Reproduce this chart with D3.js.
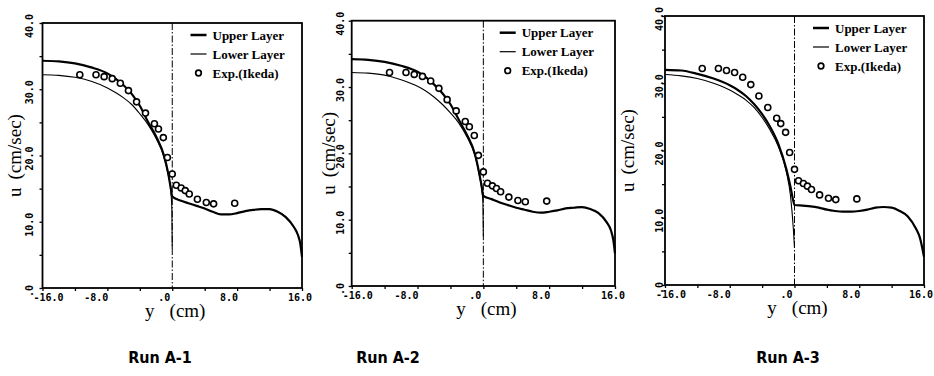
<!DOCTYPE html>
<html lang="en">
<head>
    <meta charset="UTF-8">
    <script src="https://cdn.jsdelivr.net/npm/d3@7"></script>
    <title>Runs A-1 to A-3</title>
    <style>
        body { margin: 0; background: #fff; }
        svg { display: block; background: #fff; }
        .tick-label { font-family: "DejaVu Sans Mono", monospace; font-weight: bold; font-size: 10px; }
        .legend { font-family: "Liberation Serif", serif; font-weight: bold; font-size: 13px; }
        .axis-title { font-family: "Liberation Serif", serif; font-size: 19px; }
        .run-label { font-family: "Liberation Sans Narrow", "DejaVu Sans Condensed", sans-serif; font-weight: bold; font-size: 16px; }
    </style>
</head>
<body>
<svg width="934" height="376"></svg>

<script>
    // experimental points (Ikeda), same in every run
    const expY = [-11.4, -9.4, -8.4, -7.4, -6.4, -5.4, -4.4, -3.3, -2.2, -1.7, -1.1, -0.6, 0.0, 0.5, 1.1, 1.6, 2.1, 3.1, 4.2, 5.1, 7.7];
    const expU = [32.2, 32.2, 31.9, 31.6, 30.9, 29.8, 28.1, 26.4, 24.8, 24.0, 22.7, 19.7, 17.2, 15.5, 15.1, 14.7, 14.2, 13.4, 12.9, 12.7, 12.8];

    // computed profiles, [y (cm), u (cm/sec)]
    const upperA1 = [[-16, 34.3], [-14, 34.2], [-12, 33.9], [-10, 33.3], [-8, 32.4], [-7, 31.6], [-6, 30.6], [-5, 29.3], [-4, 27.5], [-3, 25.1], [-2, 22.9], [-1, 19.9], [-0.5, 17.3], [-0.2, 15.2], [0, 13.8],
        [1, 13.2], [2, 12.8], [3, 12.4], [4, 12.0], [5, 11.5], [6, 11.1], [7, 11.1], [8, 11.3], [9, 11.6], [10, 11.8], [11, 11.9], [12, 11.9], [13, 11.5], [14, 10.7], [15, 9.2], [15.5, 8.0], [15.8, 6.6], [16, 4.7]];
    const lowerA1 = [[-16, 32.2], [-14, 32.1], [-12, 31.8], [-10, 31.2], [-8, 30.2], [-7, 29.5], [-6, 28.7], [-5, 27.7], [-4, 26.3], [-3, 24.7], [-2, 22.6], [-1, 19.7], [-0.5, 17.1], [-0.2, 14.9], [-0.05, 12.0], [0, 6.0]];

    const upperA2 = [[-16, 34.2], [-14, 34.1], [-12, 33.8], [-10, 33.2], [-8, 32.3], [-7, 31.5], [-6, 30.4], [-5, 29.1], [-4, 27.4], [-3, 25.1], [-2, 22.8], [-1, 19.8], [-0.5, 17.0], [-0.2, 15.0], [0, 13.6],
        [1, 13.1], [2, 12.6], [3, 12.2], [4, 11.8], [5, 11.5], [6, 11.2], [7, 11.05], [8, 11.2], [9, 11.4], [10, 11.7], [11, 11.8], [12, 11.9], [13, 11.6], [14, 11.0], [15, 9.6], [15.5, 8.4], [15.8, 6.9], [16, 4.9]];
    const lowerA2 = [[-16, 32.2], [-14, 32.1], [-12, 31.8], [-10, 31.1], [-8, 30.1], [-7, 29.4], [-6, 28.5], [-5, 27.4], [-4, 26.1], [-3, 24.6], [-2, 22.5], [-1, 19.6], [-0.5, 16.8], [-0.2, 14.6], [-0.05, 12.5], [0, 7.5]];

    const upperA3 = [[-16, 32.0], [-14, 31.9], [-12, 31.4], [-10, 30.7], [-8, 29.7], [-7, 29.0], [-6, 28.1], [-5, 26.9], [-4, 25.4], [-3, 23.5], [-2, 21.0], [-1, 17.2], [-0.5, 14.6], [-0.2, 12.8], [0, 11.9],
        [1, 11.8], [2, 11.7], [3, 11.5], [4, 11.2], [5, 11.0], [6, 10.9], [7, 10.9], [8, 11.0], [9, 11.2], [10, 11.5], [11, 11.6], [12, 11.5], [13, 11.0], [14, 10.2], [15, 8.4], [15.5, 7.0], [16, 4.2]];
    const lowerA3 = [[-16, 31.3], [-14, 31.1], [-12, 30.7], [-10, 30.0], [-8, 29.0], [-7, 28.3], [-6, 27.5], [-5, 26.4], [-4, 24.9], [-3, 23.0], [-2, 20.6], [-1, 16.8], [-0.5, 13.3], [-0.15, 8.5], [0, 5.5]];

    const runNames = ["Run A-1", "Run A-2", "Run A-3"];
    const legendNames = ["Upper Layer", "Lower Layer", "Exp.(Ikeda)"];
    const xTickValues = [-16, -12, -8, -4, 0, 4, 8, 12, 16];
    const xTickLabels = [-16, -8, 0, 8, 16];
    const yTickValues = [0, 5, 10, 15, 20, 25, 30, 35, 40];
    const yTickLabels = [0, 10, 20, 30, 40];

    // panel frames in page pixels
    const PANELS = [
        {left: 42.5, right: 302, top: 23, bottom: 288, runX: 160, yTitleX: 21, yLabX: 33, upper: upperA1, lower: lowerA1},
        {left: 351.7, right: 615, top: 20.7, bottom: 286, runX: 388, yTitleX: 335, yLabX: 344, upper: upperA2, lower: lowerA2},
        {left: 665, right: 924, top: 16, bottom: 285, runX: 788, yTitleX: 634, yLabX: 663, upper: upperA3, lower: lowerA3},
    ];
    const RUN_Y = 363;

    const svg = d3.select("svg");
    const fmt = d => d === 0 ? ".0" : d.toFixed(1);

    function drawPanel(p, i) {
        const x = d3.scaleLinear().domain([-16, 16]).range([p.left, p.right]);
        const y = d3.scaleLinear().domain([0, 40]).range([p.bottom, p.top]);
        const g = svg.append("g").attr("class", "panel");

        // ticks (outward, no labels)
        g.append("g")
            .attr("transform", `translate(0, ${p.bottom})`)
            .call(d3.axisBottom(x).tickValues(xTickValues).tickSize(3).tickFormat(""))
            .call(a => a.select(".domain").remove())
            .selectAll("line").attr("stroke-width", 1.3);
        g.append("g")
            .attr("transform", `translate(${p.left}, 0)`)
            .call(d3.axisLeft(y).tickValues(yTickValues).tickSize(3).tickFormat(""))
            .call(a => a.select(".domain").remove())
            .selectAll("line").attr("stroke-width", 1.3);

        g.append("rect")
            .attr("x", p.left).attr("y", p.top)
            .attr("width", p.right - p.left).attr("height", p.bottom - p.top)
            .attr("fill", "none").attr("stroke", "#000").attr("stroke-width", 1.8);

        // tick labels
        g.selectAll("text.xl")
            .data(xTickLabels)
            .enter().append("text")
            .attr("class", "tick-label xl")
            .attr("x", d => d === -16 ? x(d) - 9 : d === 16 ? Math.min(x(d) + 10, 933) : d === 0 ? x(d) - 2 : x(d) + 1)
            .attr("y", p.bottom + 13)
            .attr("text-anchor", d => d === -16 ? "start" : "end")
            .text(fmt);
        g.selectAll("text.yl")
            .data(yTickLabels)
            .enter().append("text")
            .attr("class", "tick-label yl")
            .attr("transform", d => `translate(${p.yLabX}, ${y(d) + 3}) rotate(-90)`)
            .attr("text-anchor", "middle")
            .text(fmt);

        // centre line y = 0
        g.append("line")
            .attr("x1", x(0)).attr("x2", x(0))
            .attr("y1", p.top).attr("y2", p.bottom)
            .attr("stroke", "#000").attr("stroke-width", 1)
            .attr("stroke-dasharray", "7,2,1.5,2");

        const line = d3.line()
            .x(d => x(d[0]))
            .y(d => y(d[1]))
            .curve(d3.curveMonotoneX);

        g.append("path").datum(p.lower)
            .attr("d", line)
            .attr("fill", "none").attr("stroke", "#000").attr("stroke-width", 1.1);
        g.append("path").datum(p.upper)
            .attr("d", line)
            .attr("fill", "none").attr("stroke", "#000").attr("stroke-width", 2.2);

        g.selectAll("circle.exp")
            .data(d3.zip(expY, expU))
            .enter().append("circle")
            .attr("class", "exp")
            .attr("cx", d => x(d[0]))
            .attr("cy", d => y(d[1]))
            .attr("r", 3)
            .attr("fill", "#fff").attr("stroke", "#000").attr("stroke-width", 1.6);

        // legend
        const lg = g.append("g").attr("transform", `translate(${p.left + 148}, ${p.top + 12})`);
        legendNames.forEach((name, k) => {
            const ly = k * 19;
            if (k < 2) {
                lg.append("line")
                    .attr("x1", 0).attr("x2", 16).attr("y1", ly).attr("y2", ly)
                    .attr("stroke", "#000").attr("stroke-width", k === 0 ? 2.5 : 1.2);
            } else {
                lg.append("circle")
                    .attr("cx", 8).attr("cy", ly).attr("r", 2.8)
                    .attr("fill", "#fff").attr("stroke", "#000").attr("stroke-width", 1.7);
            }
            lg.append("text")
                .attr("class", "legend")
                .attr("x", 22).attr("y", ly + 4.5)
                .text(name);
        });

        // axis titles
        const xt = g.append("text")
            .attr("class", "axis-title")
            .attr("x", (p.left + p.right) / 2 + 3)
            .attr("y", p.bottom + 29)
            .attr("text-anchor", "middle");
        xt.append("tspan").text("y");
        xt.append("tspan").attr("dx", 15).text("(cm)");

        const yt = g.append("text")
            .attr("class", "axis-title")
            .attr("transform", `translate(${p.yTitleX}, ${(p.top + p.bottom) / 2}) rotate(-90)`)
            .attr("text-anchor", "middle");
        yt.append("tspan").text("u");
        yt.append("tspan").attr("dx", 8).text("(cm/sec)");

        svg.append("text")
            .attr("class", "run-label")
            .attr("x", p.runX).attr("y", RUN_Y)
            .attr("text-anchor", "middle")
            .text(runNames[i]);
    }

    PANELS.forEach(drawPanel);
</script>
</body>
</html>
